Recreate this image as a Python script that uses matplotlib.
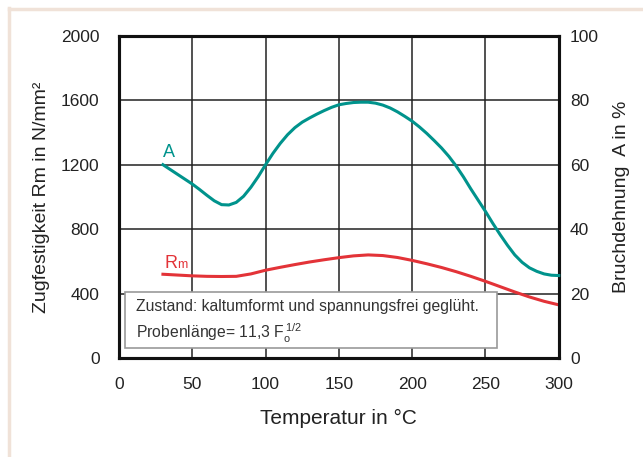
import numpy as np
import matplotlib.pyplot as plt
from matplotlib.lines import Line2D
from matplotlib.patches import Rectangle

plt.rcParams['font.family'] = ['Liberation Sans', 'DejaVu Sans']

# temperature in degC
temp = [30, 35, 40, 45, 50, 55, 60, 65, 70, 75, 80, 85, 90, 95, 100, 105, 110, 115,
        120, 125, 130, 135, 140, 145, 150, 155, 160, 165, 170, 175, 180, 185, 190,
        195, 200, 205, 210, 215, 220, 225, 230, 235, 240, 245, 250, 255, 260, 265,
        270, 275, 280, 285, 290, 295, 300]
# elongation A in %
dehnung = [60, 58.5, 57, 55.5, 54, 52.3, 50.5, 48.8, 47.6, 47.5, 48.3, 50.2, 53, 56.3,
           60, 63.5, 66.6, 69.3, 71.5, 73.2, 74.5, 75.7, 76.8, 77.8, 78.6, 79, 79.3,
           79.4, 79.4, 79.1, 78.5, 77.6, 76.4, 75, 73.5, 71.7, 69.7, 67.5, 65.2, 62.6,
           59.6, 56.2, 52.5, 49, 45.5, 41.8, 38.3, 35, 32, 29.7, 28, 26.9, 26.1, 25.7, 25.6]
# tensile strength Rm in N/mm2
temp_rm = [30, 40, 50, 60, 70, 80, 90, 100, 110, 120, 130, 140, 150, 160, 170, 180,
           190, 200, 210, 220, 230, 240, 250, 260, 270, 280, 290, 300]
festigkeit = [520, 515, 510, 507, 506, 507, 522, 545, 563, 580, 596, 610, 623, 634,
              640, 636, 624, 606, 585, 562, 536, 507, 476, 443, 410, 379, 352, 330]

TEAL = '#00938c'
RED = '#e33338'

fig = plt.figure(figsize=(6.43, 4.57), dpi=100)
ax = fig.add_axes([0.185, 0.2166, 0.684, 0.705])
ax2 = ax.twinx()

ax2.plot(temp, dehnung, color=TEAL, lw=2.2, clip_on=False, zorder=3)
ax.plot(temp_rm, festigkeit, color=RED, lw=2.2, clip_on=False, zorder=3)

ax.set_xlim(0, 300)
ax.set_ylim(0, 2000)
ax2.set_ylim(0, 100)
ax.set_xticks(range(0, 301, 50))
ax.set_yticks(range(0, 2001, 400))
ax2.set_yticks(range(0, 101, 20))
ax.grid(True, color='#222222', lw=1.1)
for a in (ax, ax2):
    a.tick_params(length=0, labelsize=12.5, colors='#222222', pad=8)
    for s in a.spines.values():
        s.set_linewidth(2.2)
        s.set_color('#111111')
ax.tick_params(axis='x', pad=14)
ax.tick_params(axis='y', pad=14)

ax.set_xlabel('Temperatur in °C', fontsize=15, color='#222222', labelpad=12)
ax.set_ylabel('Zugfestigkeit Rm in N/mm²', fontsize=14, color='#222222', labelpad=8)
ax2.set_ylabel('Bruchdehnung  A in %', fontsize=14, color='#222222', labelpad=10)

ax.text(30, 1250, 'A', color=TEAL, fontsize=13)
ax.text(31, 560, 'R', color=RED, fontsize=13)
ax.text(39.5, 560, 'm', color=RED, fontsize=9)

ax.add_patch(Rectangle((4, 62), 254, 348, fc='white', ec='#999999', lw=1.2, zorder=4))
ax.text(11.5, 318, 'Zustand: kaltumformt und spannungsfrei geglüht.',
        fontsize=11.3, color='#333333', va='center', zorder=5)
ax.text(11.5, 155, 'Probenlänge= 11,3 F$_\\mathregular{o}^{\\,\\mathregular{1/2}}$',
        fontsize=11.3, color='#333333', va='center', zorder=5)

# beige frame at top and left
fig.add_artist(Line2D([8.5/643, 1], [1 - 9/457, 1 - 9/457], color='#f0e2d8', lw=2.5,
                      transform=fig.transFigure))
fig.add_artist(Line2D([9/643, 9/643], [0, 1 - 8/457], color='#f0e2d8', lw=2.5,
                      transform=fig.transFigure))

fig.savefig('out.png', dpi=100)
